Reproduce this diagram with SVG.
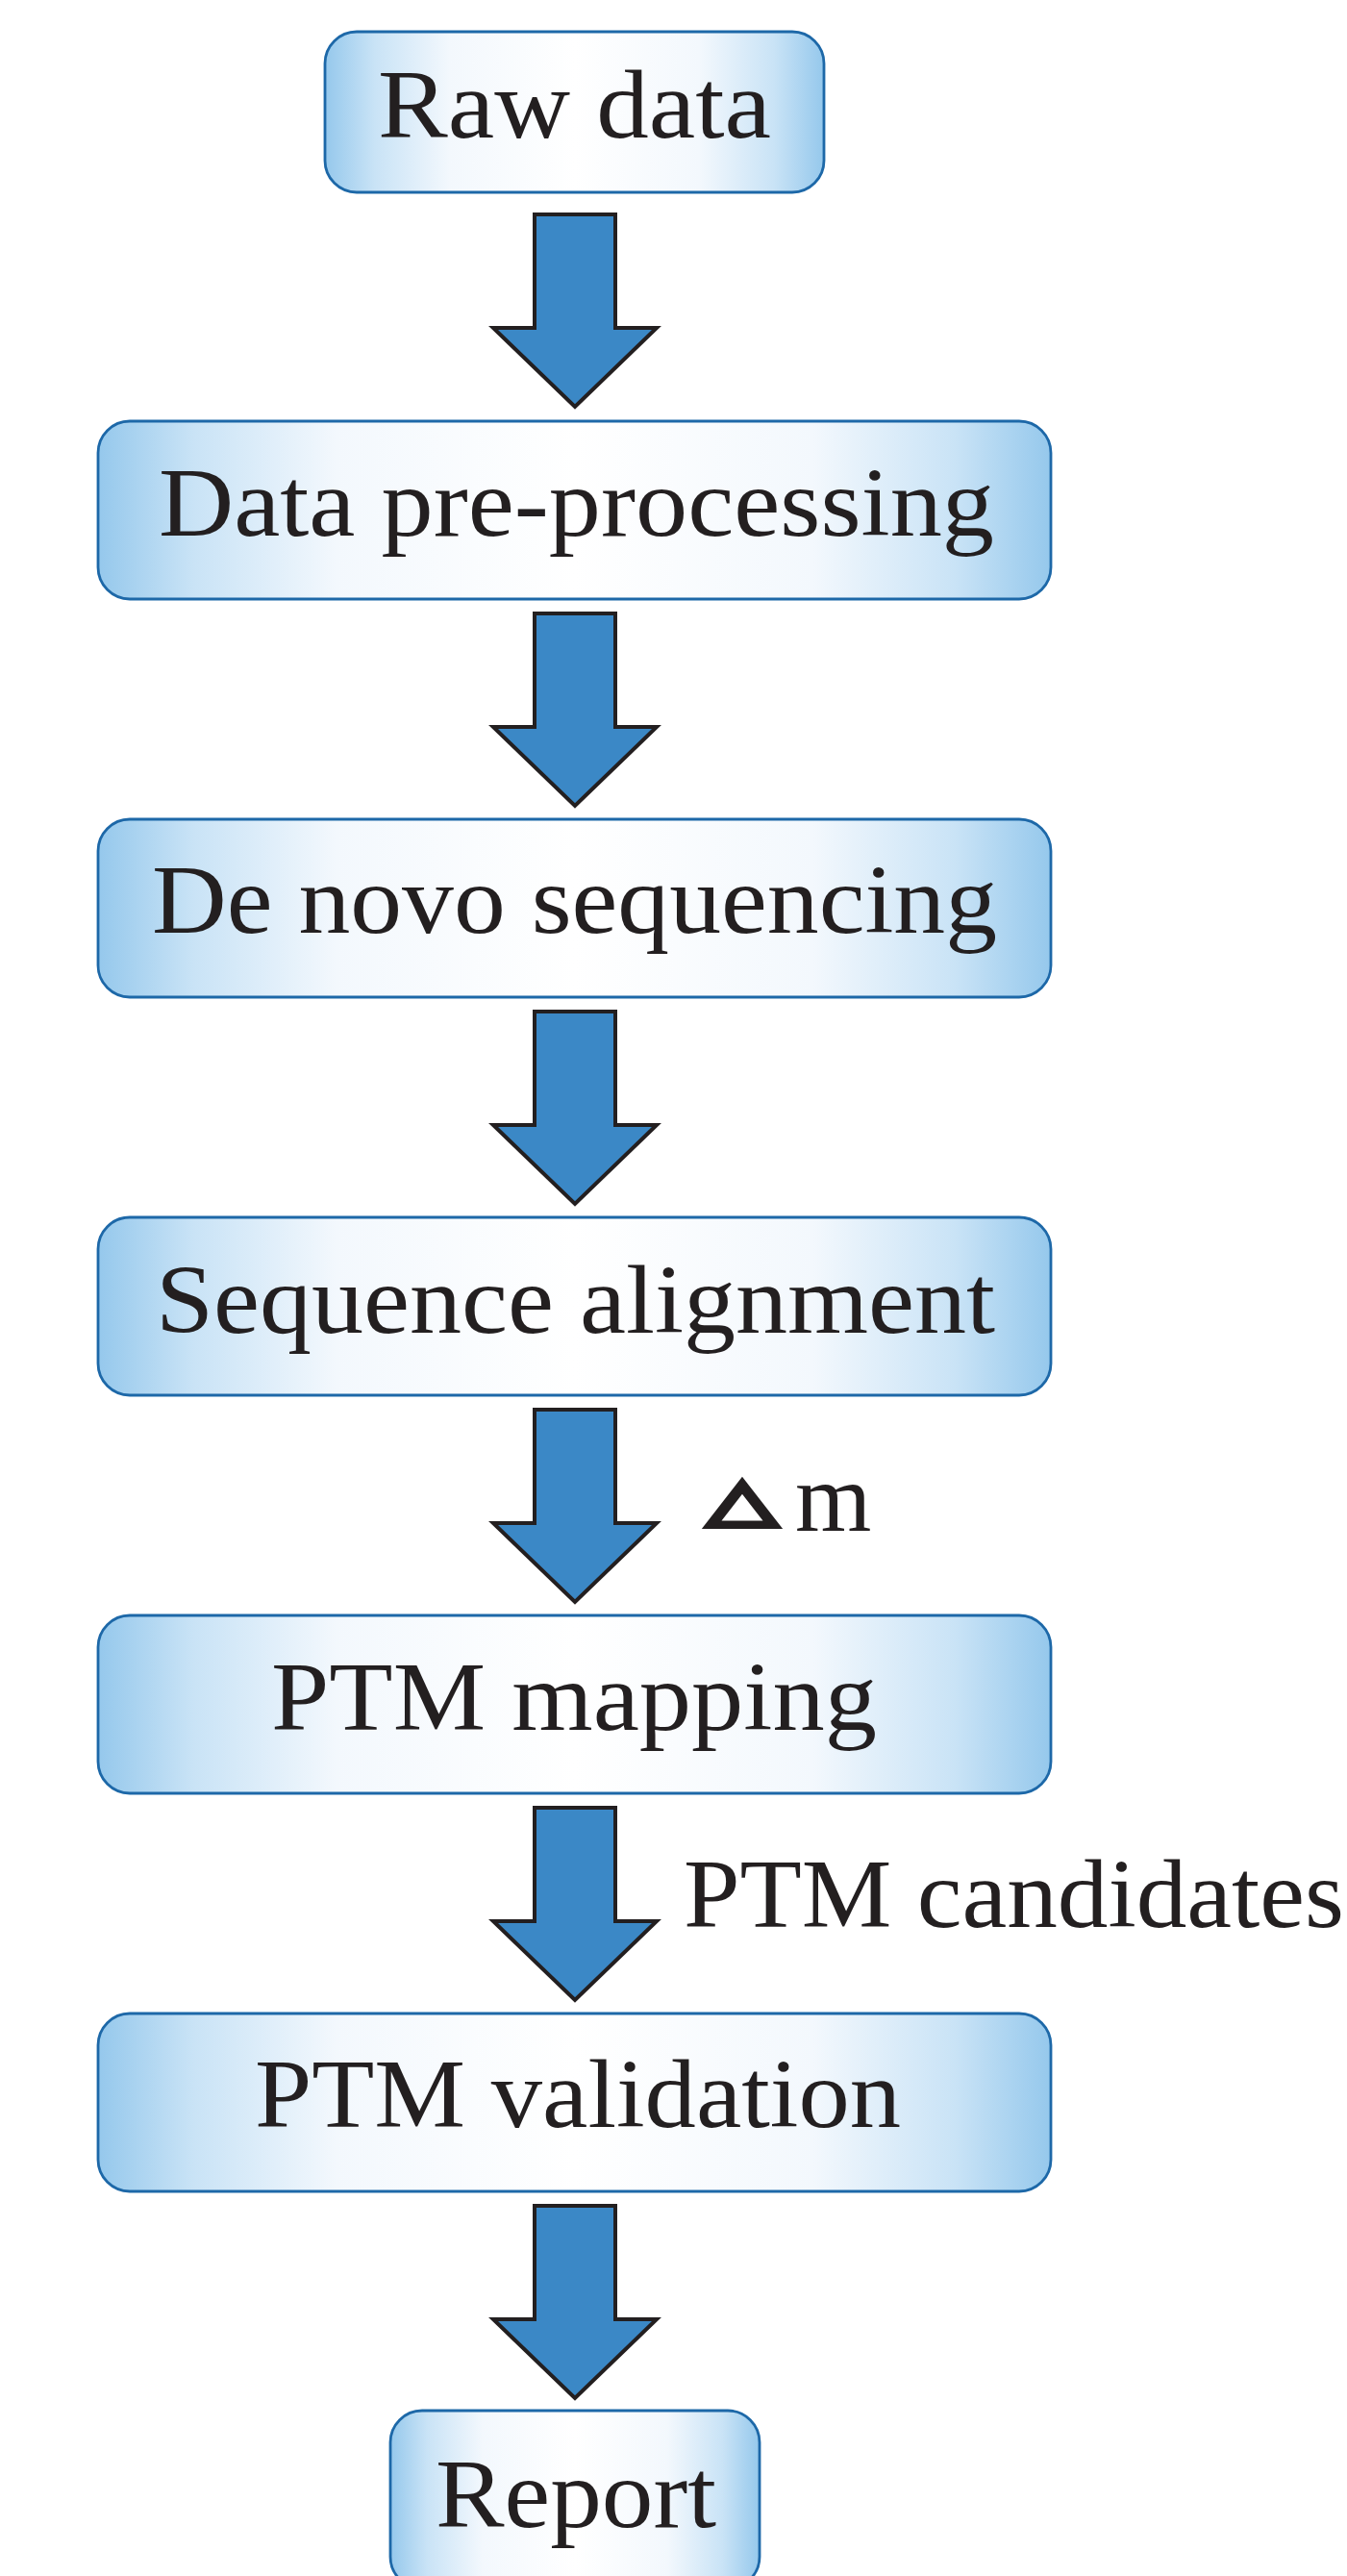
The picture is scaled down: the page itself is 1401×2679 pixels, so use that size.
<svg xmlns="http://www.w3.org/2000/svg" xmlns:xlink="http://www.w3.org/1999/xlink" width="1401" height="2679" viewBox="0 0 1401 2679">
  <defs>
    <linearGradient id="boxGrad" x1="0" y1="0" x2="1" y2="0">
      <stop offset="0" stop-color="#95c8ec"/>
      <stop offset="0.1" stop-color="#c9e3f6"/>
      <stop offset="0.25" stop-color="#f3f8fd"/>
      <stop offset="0.5" stop-color="#ffffff"/>
      <stop offset="0.75" stop-color="#f3f8fd"/>
      <stop offset="0.9" stop-color="#c9e3f6"/>
      <stop offset="1" stop-color="#95c8ec"/>
    </linearGradient>
    <path id="bigArrow" d="M556,0 V118 H513 L598,200 L683,118 H640 V0 Z"/>
  </defs>
  <style>
    .box { fill: url(#boxGrad); stroke: #1d68a8; stroke-width: 2.8; }
    .lbl { font-family: "Liberation Serif", "Times New Roman", serif; font-size: 102px; fill: #231f20; }
    .arrow { fill: #3b88c6; stroke: #231f20; stroke-width: 4; stroke-linejoin: miter; }
    .sym { font-family: "DejaVu Sans", sans-serif; font-weight: bold; fill: #231f20; stroke: #231f20; stroke-width: 7; stroke-linejoin: miter; }
  </style>

  <g id="connectors">
    <use xlink:href="#bigArrow" class="arrow" y="223"/>
    <use xlink:href="#bigArrow" class="arrow" y="638"/>
    <use xlink:href="#bigArrow" class="arrow" y="1052"/>
    <use xlink:href="#bigArrow" class="arrow" y="1466"/>
    <use xlink:href="#bigArrow" class="arrow" y="1880"/>
    <use xlink:href="#bigArrow" class="arrow" y="2294"/>
    <g id="label-dm">
      <text class="sym" font-size="100" transform="translate(736,1580) scale(1,0.6)" x="0" y="0" textLength="72" lengthAdjust="spacingAndGlyphs" vector-effect="non-scaling-stroke">△</text>
      <text class="lbl" x="827" y="1592">m</text>
    </g>
    <text id="label-candidates" class="lbl" x="711" y="2004" textLength="687" lengthAdjust="spacingAndGlyphs">PTM candidates</text>
  </g>

  <g id="node-raw-data">
    <rect class="box" x="338" y="33" width="519" height="167" rx="33" ry="33"/>
    <text class="lbl" x="393" y="143" textLength="409" lengthAdjust="spacingAndGlyphs">Raw data</text>
  </g>
  <g id="node-preprocessing">
    <rect class="box" x="102" y="438" width="991" height="185" rx="33" ry="33"/>
    <text class="lbl" x="165" y="557" textLength="869" lengthAdjust="spacingAndGlyphs">Data pre-processing</text>
  </g>
  <g id="node-denovo">
    <rect class="box" x="102" y="852" width="991" height="185" rx="33" ry="33"/>
    <text class="lbl" x="158" y="970" textLength="879" lengthAdjust="spacingAndGlyphs">De novo sequencing</text>
  </g>
  <g id="node-alignment">
    <rect class="box" x="102" y="1266" width="991" height="185" rx="33" ry="33"/>
    <text class="lbl" x="162" y="1386" textLength="873" lengthAdjust="spacingAndGlyphs">Sequence alignment</text>
  </g>
  <g id="node-mapping">
    <rect class="box" x="102" y="1680" width="991" height="185" rx="33" ry="33"/>
    <text class="lbl" x="282" y="1799" textLength="630" lengthAdjust="spacingAndGlyphs">PTM mapping</text>
  </g>
  <g id="node-validation">
    <rect class="box" x="102" y="2094" width="991" height="185" rx="33" ry="33"/>
    <text class="lbl" x="265" y="2212" textLength="672" lengthAdjust="spacingAndGlyphs">PTM validation</text>
  </g>
  <g id="node-report">
    <rect class="box" x="406" y="2507" width="384" height="185" rx="33" ry="33"/>
    <text class="lbl" x="453" y="2628" textLength="292" lengthAdjust="spacingAndGlyphs">Report</text>
  </g>
</svg>
